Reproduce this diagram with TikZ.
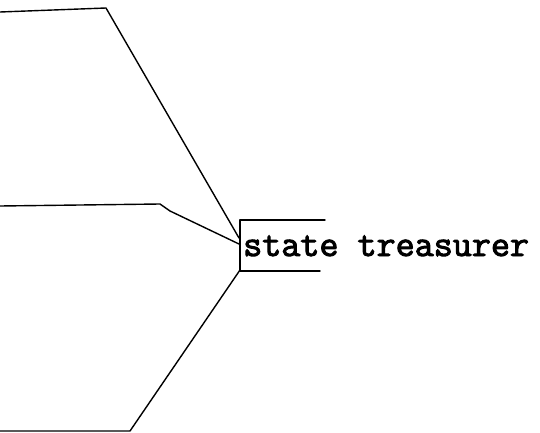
\documentclass[tikz,border=0pt]{standalone}
\usepackage{fontspec}
\newfontfamily\tmono[FakeBold=2.6]{Latin Modern Mono}
\begin{document}
\begin{tikzpicture}[x=1pt,y=-1pt,
  ln/.style={line width=1.4pt,line cap=round,line join=round},
  lbl/.style={font=\tmono\fontsize{37}{37}\selectfont,anchor=base west,inner sep=0pt}]
\useasboundingbox (0,0) rectangle (540,433);
\node[lbl] (t) at (243,256) {state treasurer};
\coordinate (bl) at (240,220);
\coordinate (bb) at (240,271);
\coordinate (tr) at (325,220);
\coordinate (br) at (320,271);
\draw[ln] (tr) -- (bl) -- (bb) -- (br);
\coordinate (a0) at (0,12);
\coordinate (a1) at (106,8);
\coordinate (ae) at (239,238);
\draw[ln] (a0) -- (a1) -- (ae);
\coordinate (b0) at (0,206);
\coordinate (b1) at (160,204);
\coordinate (b2) at (170,211);
\coordinate (be) at (239,244);
\draw[ln] (b0) -- (b1) -- (b2) -- (be);
\coordinate (c0) at (0,431);
\coordinate (c1) at (130,431);
\coordinate (ce) at (240,270);
\draw[ln] (c0) -- (c1) -- (ce);
\end{tikzpicture}
\end{document}
